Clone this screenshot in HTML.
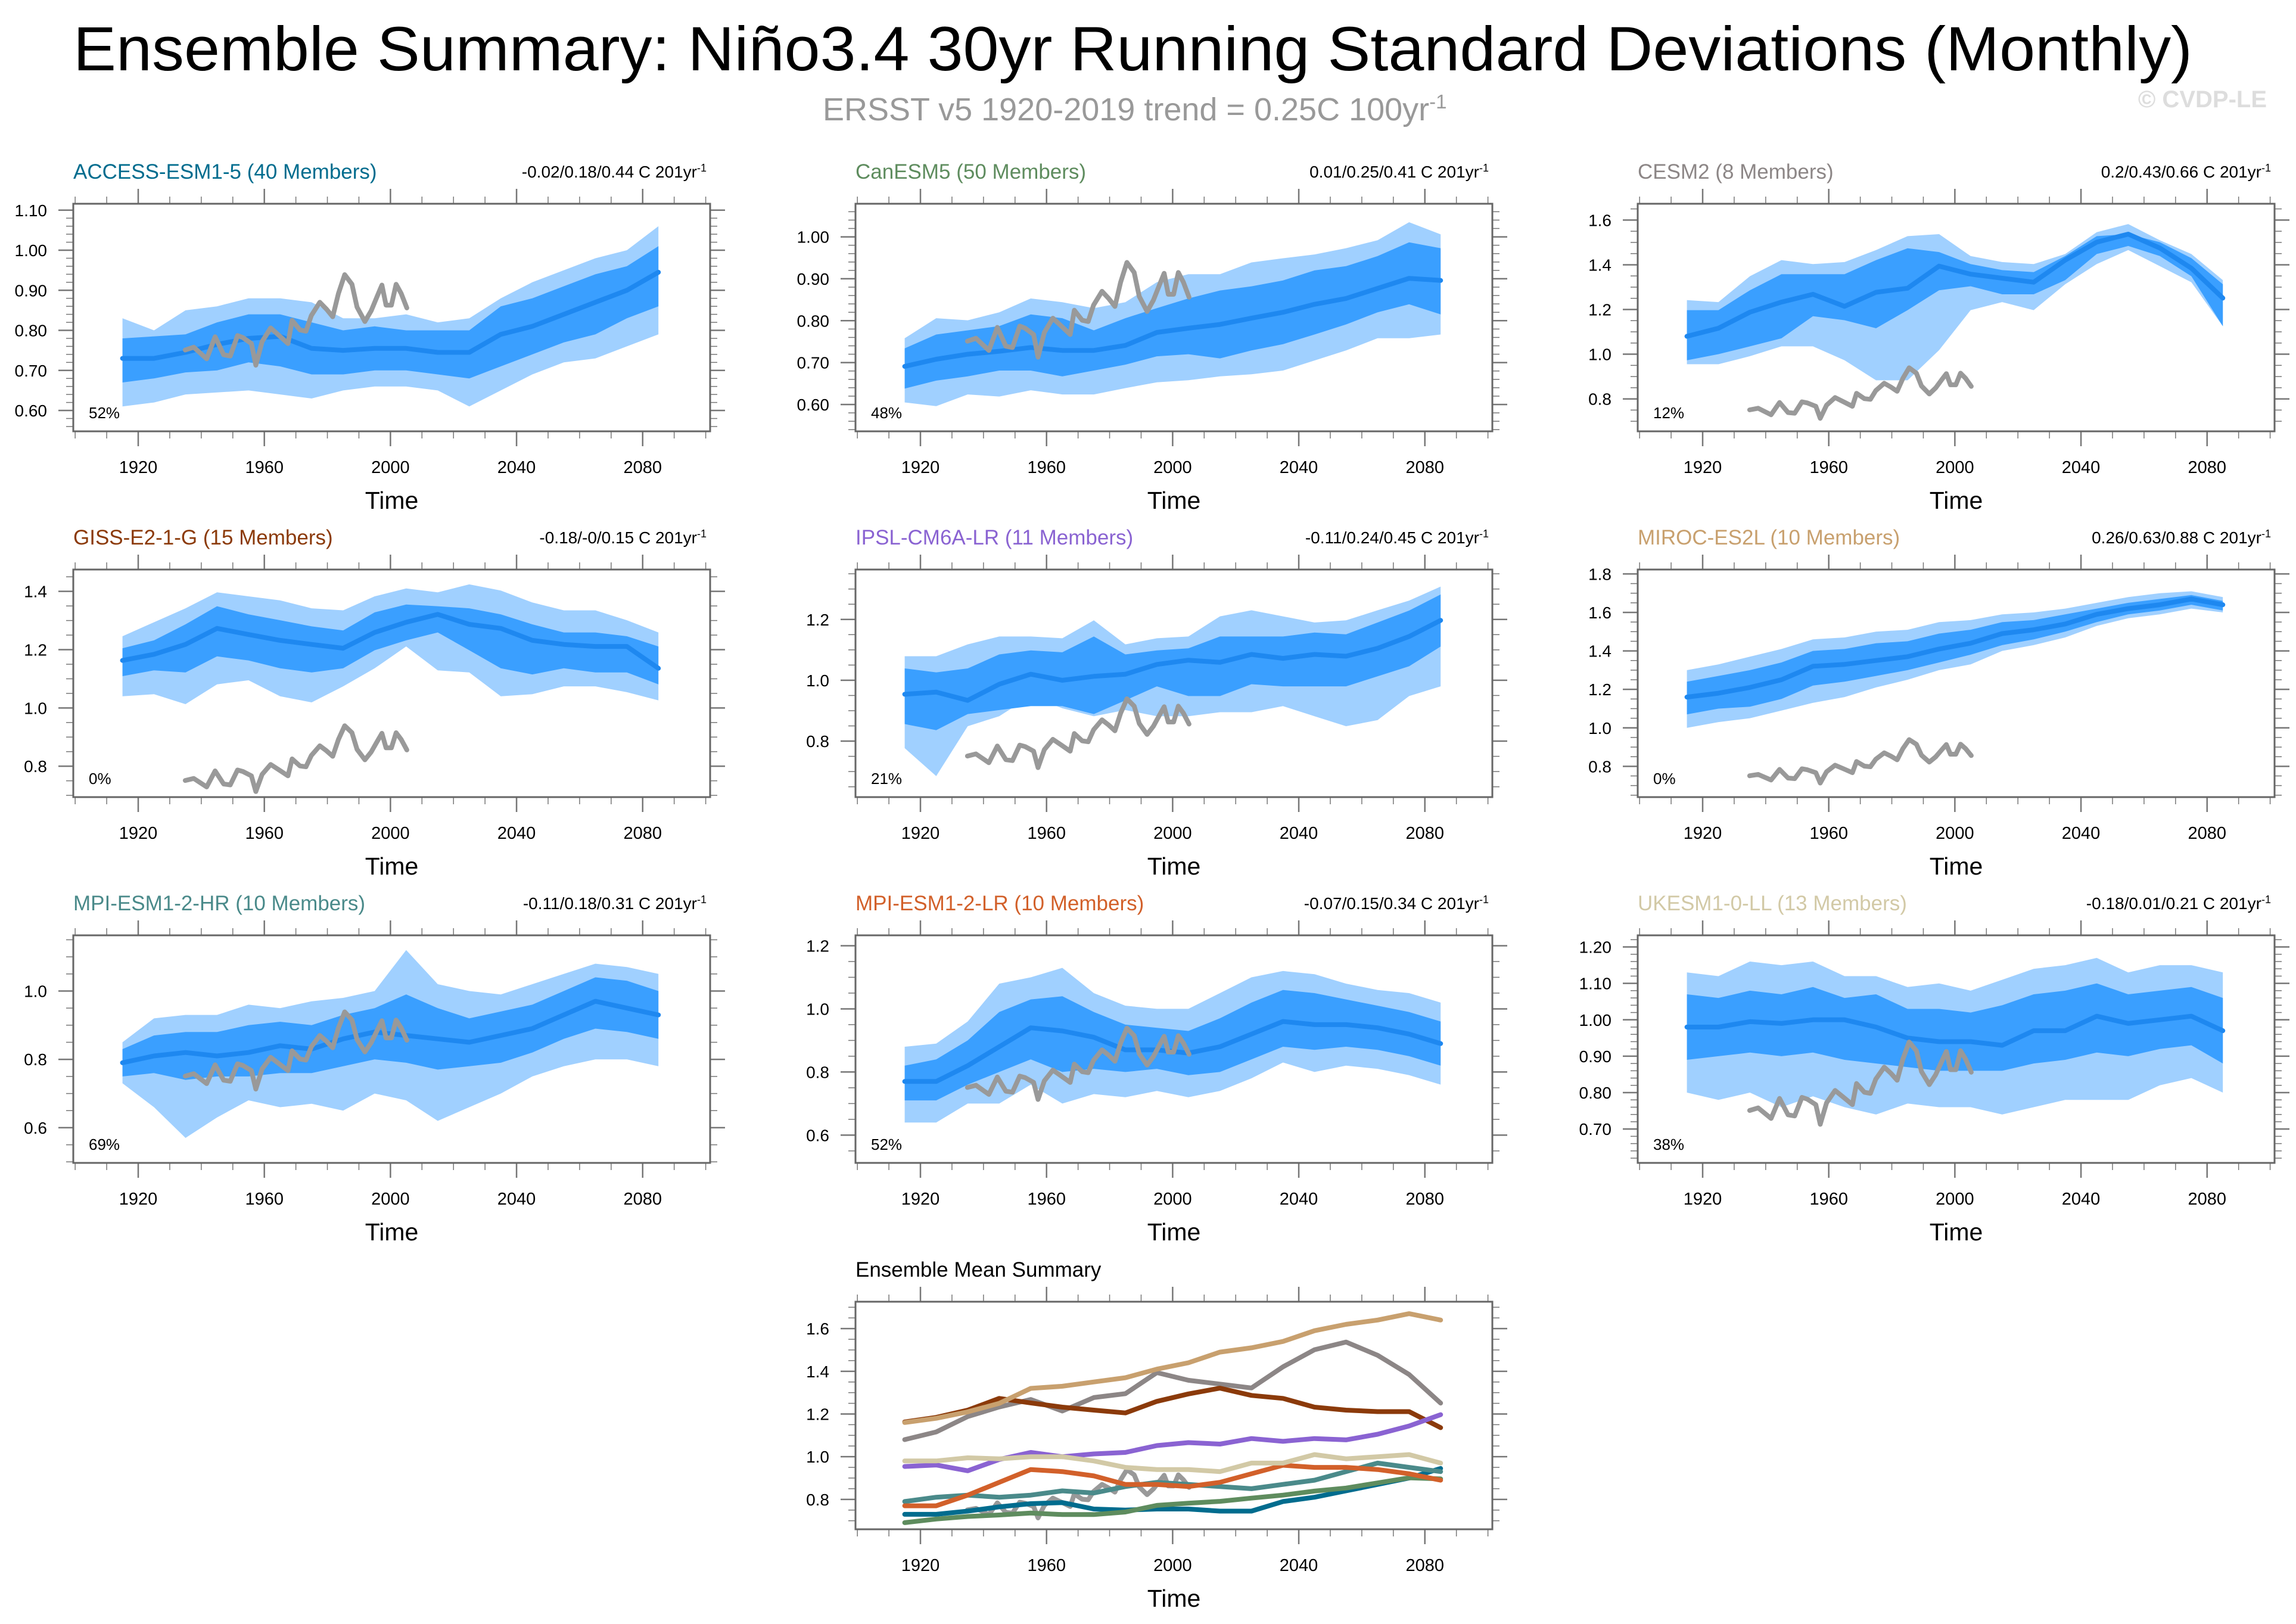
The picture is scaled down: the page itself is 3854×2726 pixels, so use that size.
<!DOCTYPE html>
<html><head><meta charset="utf-8"><style>
html,body{margin:0;padding:0;background:#fff;}
svg{display:block;font-family:"Liberation Sans",Arial,sans-serif;}
</style></head><body>
<svg id="chart" width="3854" height="2726" viewBox="0 0 3854 2726" xmlns="http://www.w3.org/2000/svg">
<rect width="3854" height="2726" fill="#fff"/>
<text x="123" y="118" font-size="105" textLength="3557" lengthAdjust="spacingAndGlyphs" fill="#000">Ensemble Summary: Niño3.4 30yr Running Standard Deviations (Monthly)</text>
<text x="1381" y="202" font-size="54" fill="#999">ERSST v5 1920-2019 trend = 0.25C 100yr<tspan dy="-20" font-size="33">-1</tspan></text>
<text x="3805" y="180" font-size="40" font-weight="bold" fill="#ddd" text-anchor="end">© CVDP-LE</text>
</svg>
<script>
const years=[1915,1925,1935,1945,1955,1965,1975,1985,1995,2005,2015,2025,2035,2045,2055,2065,2075,2085];
const obsYears=[1934.9,1937.6,1941.7,1944.4,1947.1,1949.2,1951.5,1953.2,1955.9,1957.3,1959.3,1962,1964.7,1967.5,1968.8,1971.3,1973.2,1974.9,1977.6,1979.7,1981.7,1983.5,1985.5,1987.8,1989.4,1991.9,1993.9,1995.9,1997.3,1998.6,2000.3,2001.8,2003.4,2005.2];
const obsVals=[0.751,0.758,0.729,0.784,0.739,0.736,0.787,0.782,0.767,0.713,0.772,0.806,0.787,0.767,0.825,0.801,0.798,0.837,0.870,0.853,0.834,0.892,0.939,0.915,0.858,0.822,0.849,0.887,0.913,0.863,0.863,0.915,0.892,0.856];

const accessMean=[0.73,0.73,0.745,0.765,0.78,0.785,0.755,0.75,0.755,0.755,0.745,0.745,0.79,0.81,0.84,0.87,0.90,0.945];
const accessDarkHi=[0.78,0.785,0.79,0.82,0.84,0.84,0.82,0.80,0.81,0.80,0.80,0.80,0.86,0.88,0.91,0.94,0.96,1.01];
const accessDarkLo=[0.67,0.68,0.695,0.70,0.72,0.71,0.69,0.69,0.70,0.70,0.69,0.68,0.71,0.74,0.77,0.79,0.83,0.86];
const accessLightHi=[0.83,0.80,0.85,0.86,0.88,0.88,0.87,0.83,0.83,0.84,0.82,0.83,0.88,0.92,0.95,0.98,1.00,1.06];
const accessLightLo=[0.61,0.62,0.64,0.645,0.65,0.64,0.63,0.65,0.66,0.66,0.65,0.61,0.65,0.69,0.72,0.73,0.76,0.79];

const canMean=[0.691,0.708,0.720,0.727,0.736,0.729,0.729,0.741,0.772,0.782,0.791,0.806,0.820,0.839,0.853,0.877,0.901,0.896];
const canDarkHi=[0.734,0.767,0.777,0.787,0.815,0.806,0.777,0.806,0.830,0.853,0.872,0.882,0.896,0.920,0.930,0.954,0.987,0.973];
const canDarkLo=[0.638,0.657,0.667,0.681,0.681,0.667,0.681,0.695,0.715,0.720,0.710,0.729,0.744,0.767,0.791,0.820,0.839,0.815];
const canLightHi=[0.758,0.806,0.801,0.820,0.853,0.844,0.830,0.844,0.892,0.911,0.911,0.939,0.949,0.958,0.973,0.992,1.035,1.006];
const canLightLo=[0.605,0.596,0.624,0.619,0.634,0.624,0.624,0.639,0.653,0.658,0.667,0.672,0.681,0.705,0.729,0.758,0.758,0.767];

const cesmMean=[1.080,1.116,1.188,1.233,1.268,1.214,1.277,1.295,1.394,1.358,1.340,1.322,1.421,1.501,1.537,1.475,1.385,1.251];
const cesmDarkHi=[1.197,1.197,1.286,1.358,1.358,1.358,1.421,1.474,1.457,1.403,1.376,1.367,1.439,1.528,1.537,1.501,1.430,1.313];
const cesmDarkLo=[0.973,1.000,1.035,1.071,1.170,1.152,1.116,1.197,1.286,1.304,1.268,1.268,1.331,1.448,1.484,1.439,1.349,1.125];
const cesmLightHi=[1.242,1.233,1.349,1.421,1.403,1.412,1.466,1.528,1.537,1.439,1.412,1.403,1.448,1.546,1.582,1.510,1.448,1.331];
const cesmLightLo=[0.955,0.955,0.991,1.035,1.035,0.973,0.883,0.883,1.018,1.197,1.233,1.197,1.313,1.403,1.466,1.394,1.322,1.125];

const gissMean=[1.163,1.184,1.218,1.273,1.252,1.232,1.218,1.205,1.259,1.294,1.321,1.287,1.273,1.232,1.218,1.211,1.211,1.136];
const gissDarkHi=[1.205,1.232,1.287,1.349,1.321,1.301,1.280,1.266,1.328,1.355,1.349,1.342,1.321,1.287,1.259,1.259,1.246,1.211];
const gissDarkLo=[1.109,1.129,1.122,1.177,1.163,1.136,1.122,1.136,1.198,1.232,1.259,1.198,1.136,1.115,1.136,1.122,1.122,1.081];
const gissLightHi=[1.246,1.294,1.342,1.397,1.383,1.369,1.342,1.335,1.383,1.410,1.397,1.424,1.403,1.362,1.335,1.335,1.301,1.259];
const gissLightLo=[1.040,1.047,1.013,1.081,1.095,1.040,1.019,1.074,1.136,1.211,1.129,1.122,1.040,1.047,1.074,1.074,1.054,1.026];

const ipslMean=[0.954,0.961,0.934,0.987,1.020,1.000,1.013,1.020,1.052,1.066,1.059,1.085,1.072,1.085,1.079,1.105,1.144,1.197];
const ipslDarkHi=[1.039,1.026,1.039,1.085,1.098,1.092,1.144,1.085,1.098,1.105,1.144,1.144,1.144,1.157,1.151,1.190,1.229,1.282];
const ipslDarkLo=[0.856,0.836,0.889,0.902,0.915,0.915,0.889,0.934,0.980,0.948,0.948,0.987,0.980,0.980,0.980,1.013,1.046,1.111];
const ipslLightHi=[1.079,1.079,1.118,1.144,1.144,1.138,1.197,1.118,1.138,1.144,1.210,1.230,1.210,1.190,1.197,1.230,1.262,1.308];
const ipslLightLo=[0.777,0.685,0.849,0.882,0.948,0.908,0.882,0.902,0.882,0.882,0.895,0.895,0.915,0.882,0.849,0.869,0.948,0.980];

const mirocMean=[1.16,1.18,1.21,1.25,1.32,1.33,1.35,1.37,1.41,1.44,1.49,1.51,1.54,1.59,1.62,1.64,1.67,1.64];
const mirocDarkHi=[1.24,1.27,1.30,1.34,1.40,1.41,1.44,1.45,1.49,1.51,1.55,1.56,1.59,1.62,1.65,1.67,1.69,1.66];
const mirocDarkLo=[1.07,1.10,1.11,1.15,1.22,1.24,1.27,1.30,1.34,1.38,1.43,1.46,1.50,1.55,1.59,1.61,1.64,1.61];
const mirocLightHi=[1.30,1.33,1.37,1.41,1.46,1.47,1.50,1.51,1.55,1.56,1.59,1.60,1.62,1.65,1.68,1.70,1.71,1.68];
const mirocLightLo=[1.00,1.03,1.05,1.09,1.13,1.16,1.21,1.25,1.30,1.33,1.40,1.43,1.47,1.53,1.57,1.59,1.62,1.60];

const mpihrMean=[0.79,0.81,0.82,0.81,0.82,0.84,0.83,0.86,0.88,0.87,0.86,0.85,0.87,0.89,0.93,0.97,0.95,0.93];
const mpihrDarkHi=[0.83,0.87,0.88,0.88,0.90,0.91,0.90,0.93,0.95,0.99,0.95,0.92,0.94,0.96,1.00,1.04,1.03,1.00];
const mpihrDarkLo=[0.75,0.76,0.74,0.75,0.75,0.76,0.76,0.78,0.80,0.79,0.77,0.78,0.79,0.82,0.86,0.89,0.88,0.86];
const mpihrLightHi=[0.85,0.92,0.93,0.93,0.96,0.95,0.97,0.98,1.00,1.12,1.02,1.00,0.99,1.02,1.05,1.08,1.07,1.05];
const mpihrLightLo=[0.73,0.66,0.57,0.63,0.68,0.66,0.67,0.65,0.70,0.68,0.62,0.66,0.70,0.75,0.78,0.80,0.80,0.78];

const mpilrMean=[0.77,0.77,0.82,0.88,0.94,0.93,0.91,0.87,0.87,0.86,0.88,0.92,0.96,0.95,0.95,0.94,0.92,0.89];
const mpilrDarkHi=[0.82,0.84,0.90,0.99,1.03,1.04,0.99,0.95,0.94,0.93,0.97,1.02,1.06,1.05,1.03,1.01,0.99,0.96];
const mpilrDarkLo=[0.71,0.71,0.76,0.80,0.84,0.80,0.81,0.80,0.81,0.79,0.80,0.84,0.88,0.87,0.88,0.87,0.85,0.82];
const mpilrLightHi=[0.88,0.89,0.96,1.08,1.10,1.13,1.05,1.01,1.00,1.00,1.05,1.10,1.12,1.11,1.08,1.06,1.05,1.02];
const mpilrLightLo=[0.64,0.64,0.70,0.70,0.76,0.70,0.73,0.72,0.74,0.72,0.74,0.78,0.83,0.80,0.82,0.81,0.79,0.76];

const ukMean=[0.98,0.98,0.995,0.99,1.00,1.00,0.98,0.95,0.94,0.94,0.93,0.97,0.97,1.01,0.99,1.00,1.01,0.97];
const ukDarkHi=[1.07,1.06,1.08,1.07,1.09,1.06,1.07,1.03,1.03,1.02,1.04,1.07,1.08,1.10,1.07,1.08,1.09,1.06];
const ukDarkLo=[0.89,0.90,0.91,0.90,0.91,0.89,0.88,0.87,0.86,0.86,0.86,0.88,0.89,0.91,0.90,0.92,0.93,0.88];
const ukLightHi=[1.13,1.12,1.16,1.15,1.16,1.12,1.12,1.09,1.10,1.08,1.11,1.14,1.15,1.17,1.13,1.15,1.15,1.13];
const ukLightLo=[0.80,0.78,0.80,0.76,0.79,0.76,0.74,0.77,0.76,0.76,0.74,0.76,0.78,0.78,0.78,0.82,0.84,0.80];

const xTickYears=[1920,1960,2000,2040,2080];

const NS='http://www.w3.org/2000/svg';
const svg=document.getElementById('chart');
function mk(tag,attrs,parent){const e=document.createElementNS(NS,tag);for(const k in attrs)e.setAttribute(k,attrs[k]);(parent||svg).appendChild(e);return e;}

const BW=1069,BH=382,X0=1899.4,X1=2101.4;
const panels=[
 {key:'access',title:'ACCESS-ESM1-5 (40 Members)',color:'#006c8e',stats:'-0.02/0.18/0.44 C 201yr',pct:'52%',lo:0.548,hi:1.116,maj:0.1,first:0.6,last:1.1,dec:2,left:123,top:342,m:accessMean,dh:accessDarkHi,dl:accessDarkLo,lh:accessLightHi,ll:accessLightLo},
 {key:'canesm',title:'CanESM5 (50 Members)',color:'#5e8c5e',stats:'0.01/0.25/0.41 C 201yr',pct:'48%',lo:0.536,hi:1.079,maj:0.1,first:0.6,last:1.0,dec:2,left:1436,top:342,m:canMean,dh:canDarkHi,dl:canDarkLo,lh:canLightHi,ll:canLightLo},
 {key:'cesm2',title:'CESM2 (8 Members)',color:'#8c8686',stats:'0.2/0.43/0.66 C 201yr',pct:'12%',lo:0.655,hi:1.673,maj:0.2,first:0.8,last:1.6,dec:1,left:2749,top:342,m:cesmMean,dh:cesmDarkHi,dl:cesmDarkLo,lh:cesmLightHi,ll:cesmLightLo},
 {key:'giss',title:'GISS-E2-1-G (15 Members)',color:'#8b3a0a',stats:'-0.18/-0/0.15 C 201yr',pct:'0%',lo:0.694,hi:1.475,maj:0.2,first:0.8,last:1.4,dec:1,left:123,top:956,m:gissMean,dh:gissDarkHi,dl:gissDarkLo,lh:gissLightHi,ll:gissLightLo},
 {key:'ipsl',title:'IPSL-CM6A-LR (11 Members)',color:'#8a63d2',stats:'-0.11/0.24/0.45 C 201yr',pct:'21%',lo:0.616,hi:1.364,maj:0.2,first:0.8,last:1.2,dec:1,left:1436,top:956,m:ipslMean,dh:ipslDarkHi,dl:ipslDarkLo,lh:ipslLightHi,ll:ipslLightLo},
 {key:'miroc',title:'MIROC-ES2L (10 Members)',color:'#c8a06e',stats:'0.26/0.63/0.88 C 201yr',pct:'0%',lo:0.64,hi:1.823,maj:0.2,first:0.8,last:1.8,dec:1,left:2749,top:956,m:mirocMean,dh:mirocDarkHi,dl:mirocDarkLo,lh:mirocLightHi,ll:mirocLightLo},
 {key:'mpihr',title:'MPI-ESM1-2-HR (10 Members)',color:'#4a8a8a',stats:'-0.11/0.18/0.31 C 201yr',pct:'69%',lo:0.497,hi:1.163,maj:0.2,first:0.6,last:1.0,dec:1,left:123,top:1570,m:mpihrMean,dh:mpihrDarkHi,dl:mpihrDarkLo,lh:mpihrLightHi,ll:mpihrLightLo},
 {key:'mpilr',title:'MPI-ESM1-2-LR (10 Members)',color:'#d2602a',stats:'-0.07/0.15/0.34 C 201yr',pct:'52%',lo:0.512,hi:1.233,maj:0.2,first:0.6,last:1.2,dec:1,left:1436,top:1570,m:mpilrMean,dh:mpilrDarkHi,dl:mpilrDarkLo,lh:mpilrLightHi,ll:mpilrLightLo},
 {key:'ukesm',title:'UKESM1-0-LL (13 Members)',color:'#d2c9a6',stats:'-0.18/0.01/0.21 C 201yr',pct:'38%',lo:0.607,hi:1.232,maj:0.1,first:0.7,last:1.2,dec:2,left:2749,top:1570,m:ukMean,dh:ukDarkHi,dl:ukDarkLo,lh:ukLightHi,ll:ukLightLo}
];

function axes(p,g){
  const xs=yr=>p.left+(yr-X0)/(X1-X0)*BW;
  const ys=v=>p.top+BH-(v-p.lo)/(p.hi-p.lo)*BH;
  const cp=mk('clipPath',{id:'clip-'+p.key},g);
  mk('rect',{x:p.left,y:p.top,width:BW,height:BH},cp);
  for(let yr=1900;yr<=2100;yr+=10){
    const x=xs(yr),major=xTickYears.indexOf(yr)>=0;
    const L=major?25:12;
    const t1=mk('line',{x1:x,y1:p.top,x2:x,y2:p.top-L,stroke:'#777','stroke-width':major?2.5:1.5},g);
    
    
    const t2=mk('line',{x1:x,y1:p.top+BH,x2:x,y2:p.top+BH+L,stroke:'#777','stroke-width':major?2.5:1.5},g);
    
    
  }
  xTickYears.forEach(yr=>{
    const t=mk('text',{x:xs(yr),y:p.top+BH+70,'font-size':29,'text-anchor':'middle',fill:'#000'},g);
    
    
    t.textContent=yr;
  });
  const tt=mk('text',{x:p.left+BW/2,y:p.top+BH+130,'font-size':41,'text-anchor':'middle',fill:'#000'},g);
  
  
  tt.textContent='Time';
  const minor=p.maj===0.1?0.02:0.05;
  const n0=Math.ceil(p.lo/minor-1e-6),n1=Math.floor(p.hi/minor+1e-6);
  for(let n=n0;n<=n1;n++){
    const v=n*minor,y=ys(v);
    const isMaj=Math.abs(v/p.maj-Math.round(v/p.maj))<1e-6;
    const L=isMaj?25:12;
    const a=mk('line',{x1:p.left,y1:y,x2:p.left-L,y2:y,stroke:'#777','stroke-width':isMaj?2.5:1.5},g);
    
    
    const b=mk('line',{x1:p.left+BW,y1:y,x2:p.left+BW+L,y2:y,stroke:'#777','stroke-width':isMaj?2.5:1.5},g);
    
    
    if(isMaj&&v>=p.first-1e-6&&v<=p.last+1e-6){
      const t=mk('text',{x:p.left-44,y:y+10,'font-size':28,'text-anchor':'end',fill:'#000'},g);
      
      
      t.textContent=v.toFixed(p.dec);
    }
  }
  return {xs,ys};
}
function band(arrHi,arrLo,sc,fill,g,name,clip){
  let d='';
  years.forEach((yr,i)=>{d+=(i?'L':'M')+sc.xs(yr).toFixed(1)+','+sc.ys(arrHi[i]).toFixed(1);});
  for(let i=years.length-1;i>=0;i--)d+='L'+sc.xs(years[i]).toFixed(1)+','+sc.ys(arrLo[i]).toFixed(1);
  const e=mk('path',{d:d+'Z',fill:fill,'clip-path':'url(#'+clip+')'},g);
  
  
}
function line(xa,va,sc,color,w,g,name,clip){
  const d=xa.map((yr,i)=>(i?'L':'M')+sc.xs(yr).toFixed(1)+','+sc.ys(va[i]).toFixed(1)).join('');
  const e=mk('path',{d:d,fill:'none',stroke:color,'stroke-width':w,'stroke-linejoin':'round','stroke-linecap':'round','clip-path':'url(#'+clip+')'},g);
  
  
}
function frame(p,g){
  const r=mk('rect',{x:p.left,y:p.top,width:BW,height:BH,fill:'none',stroke:'#666','stroke-width':3},g);
  
  
}

panels.forEach(p=>{
  const g=mk('g',{});
  
  
  const sc=axes(p,g);
  const clip='clip-'+p.key;
  band(p.lh,p.ll,sc,'#a0d0ff',g,'light-spread-band',clip);
  band(p.dh,p.dl,sc,'#3a9fff',g,'dark-spread-band',clip);
  line(years,p.m,sc,'#1e88f0',8,g,'ensemble-mean-line',clip);
  line(obsYears,obsVals,sc,'#999999',8,g,'observed-line',clip);
  frame(p,g);
  const t=mk('text',{x:p.left,y:p.top-42,'font-size':35,fill:p.color},g);
  
  
  t.textContent=p.title;
  const s=mk('text',{x:p.left+BW-6,y:p.top-44,'font-size':28,'text-anchor':'end',fill:'#000'},g);
  
  
  s.textContent=p.stats;
  const sup=mk('tspan',{dy:-10,'font-size':18},s);
  sup.textContent='-1';
  const pc=mk('text',{x:p.left+26,y:p.top+BH-22,'font-size':26,fill:'#000'},g);
  
  
  pc.textContent=p.pct;
});

const sp={key:'summary',lo:0.66,hi:1.726,maj:0.2,first:0.8,last:1.6,dec:1,left:1436,top:2185};
const sg=mk('g',{});


const ssc=axes(sp,sg);
line(obsYears,obsVals,ssc,'#999999',8,sg,'observed-line','clip-summary');
panels.forEach(p=>{line(years,p.m,ssc,p.color,8,sg,'summary-line-'+p.key,'clip-summary');});
frame(sp,sg);
const st=mk('text',{x:sp.left,y:sp.top-42,'font-size':35,fill:'#000'},sg);


st.textContent='Ensemble Mean Summary';
</script>
</body></html>
